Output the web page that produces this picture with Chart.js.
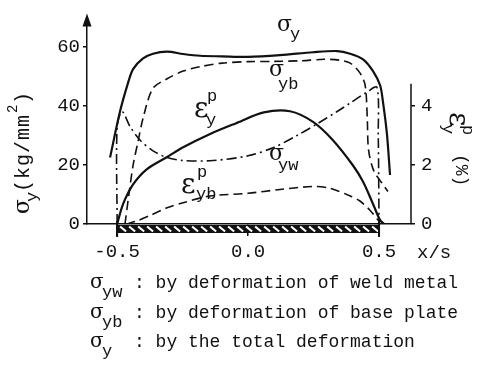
<!DOCTYPE html>
<html>
<head>
<meta charset="utf-8">
<script src="https://cdn.jsdelivr.net/npm/chart.js@4.4.1/dist/chart.umd.min.js"></script>
<style>
  html, body { margin: 0; padding: 0; background: #fff; }
  #wrap { width: 487px; height: 365px; }
</style>
</head>
<body>
<div id="wrap"><canvas id="chart" width="487" height="365"></canvas></div>
<script>
// tick values
const xTicks = [-0.5, 0.0, 0.5];
const sigmaTicks = [0, 20, 40, 60];
const strainTicks = [0, 2, 4];

// sigma_y : total deformation (kg/mm2)
const sigmaYPos = [-0.527, -0.489, -0.458, -0.439, -0.401, -0.363, -0.309, -0.248, -0.183, -0.1, 0.0, 0.122, 0.248, 0.34, 0.39, 0.439, 0.477, 0.504, 0.515, 0.53, 0.542];
const sigmaY = [22.5, 38.1, 47.9, 52.5, 56.1, 57.7, 58.4, 57.6, 57.0, 56.8, 56.6, 57.2, 58.2, 58.6, 57.7, 55.8, 51.8, 47.0, 41.4, 30.6, 16.6];

// sigma_yb : base plate deformation
const sigmaYbPos = [-0.47, -0.455, -0.439, -0.42, -0.40, -0.363, -0.309, -0.248, -0.183, -0.1, 0.0, 0.1, 0.2, 0.29, 0.35, 0.39, 0.427, 0.447, 0.455, 0.46, 0.48, 0.51, 0.534];
const sigmaYb = [0, 10, 19.9, 28, 36.2, 46, 49.2, 51.8, 53.3, 54.5, 55.0, 55.1, 55.3, 55.8, 55.5, 54.5, 51.2, 47, 36, 25, 18, 14, 11];

// sigma_yw : weld metal deformation
const sigmaYwPos = [-0.5, -0.5, -0.481, -0.45, -0.412, -0.363, -0.309, -0.248, -0.134, 0.0, 0.095, 0.187, 0.263, 0.34, 0.39, 0.454, 0.492, 0.497, 0.5];
const sigmaYw = [0, 33, 38.1, 32.9, 28.4, 24.8, 22.5, 21.5, 21.5, 23.1, 25.8, 30, 33.9, 38.1, 41, 44.7, 46.3, 30, 0];

// plastic strain (%)
const strainYPos = [-0.5, -0.477, -0.439, -0.386, -0.309, -0.248, -0.145, -0.05, 0.06, 0.16, 0.248, 0.324, 0.4, 0.439, 0.477, 0.504, 0.52];
const strainY = [0, 0.68, 1.34, 1.86, 2.27, 2.6, 3.05, 3.4, 3.78, 3.82, 3.46, 2.84, 1.99, 1.43, 0.68, 0.13, 0];

const strainYbPos = [-0.465, -0.42, -0.374, -0.309, -0.248, -0.145, 0.0, 0.122, 0.248, 0.313, 0.39, 0.427, 0.466, 0.504];
const strainYb = [0, 0.12, 0.29, 0.55, 0.72, 0.95, 1.04, 1.17, 1.27, 1.21, 0.95, 0.78, 0.46, 0.05];

const legendRows = [
  { sub: 'yw', text: ': by deformation of weld metal' },
  { sub: 'yb', text: ': by deformation of base plate' },
  { sub: 'y', text: ': by the total deformation' }
];

const INK = '#111';
const MONO = '"Liberation Mono", "DejaVu Sans Mono", monospace';
const SERIF = '"DejaVu Serif", "Liberation Serif", serif';

function pts(xs, ys) {
  return xs.map(function (x, i) { return { x: x, y: ys[i] }; });
}

function curve(data, axis, width, dash) {
  return {
    data: data,
    yAxisID: axis,
    showLine: true,
    borderColor: INK,
    borderWidth: width,
    borderDash: dash,
    pointRadius: 0,
    tension: 0.3,
    fill: false
  };
}

// main glyph with optional subscript / superscript
function symbol(ctx, s) {
  ctx.font = s.size + 'px ' + SERIF;
  ctx.fillText(s.main, s.x, s.y);
  ctx.font = '17px ' + MONO;
  if (s.sub) ctx.fillText(s.sub, s.sx, s.sy);
  if (s.sup) ctx.fillText(s.sup, s.px, s.py);
}

const curveLabels = [
  { main: 'σ', size: 22, x: 277, y: 31, sub: 'y', sx: 290, sy: 39 },
  { main: 'σ', size: 22, x: 269, y: 76, sub: 'yb', sx: 278, sy: 89 },
  { main: 'ε', size: 28, x: 194, y: 117, sub: 'y', sx: 206, sy: 125, sup: 'p', px: 207, py: 101 },
  { main: 'σ', size: 22, x: 269, y: 160, sub: 'yw', sx: 278, sy: 170 },
  { main: 'ε', size: 28, x: 181, y: 193, sub: 'yb', sx: 196, sy: 199, sup: 'p', px: 197, py: 177 }
];

const decor = {
  id: 'decor',
  afterDraw: function (chart) {
    const ctx = chart.ctx;
    const xs = chart.scales.x;
    const y2 = chart.scales.y2;
    const area = chart.chartArea;
    ctx.save();
    ctx.fillStyle = INK;
    ctx.strokeStyle = INK;

    // arrow on the stress axis
    ctx.beginPath();
    ctx.moveTo(area.left, area.top - 4);
    ctx.lineTo(area.left - 4.5, area.top + 9);
    ctx.lineTo(area.left + 4.5, area.top + 9);
    ctx.closePath();
    ctx.fill();

    // strain axis line
    ctx.lineWidth = 1.5;
    ctx.beginPath();
    ctx.moveTo(area.right, y2.getPixelForValue(4.75));
    ctx.lineTo(area.right, area.bottom);
    ctx.stroke();

    // weld bead
    const x0 = xs.getPixelForValue(-0.5);
    const x1 = xs.getPixelForValue(0.5);
    const b = area.bottom;
    ctx.fillRect(x0, b + 1, x1 - x0, 8);
    ctx.strokeStyle = '#fff';
    ctx.lineWidth = 2.2;
    for (let x = x0 + 3; x < x1 - 6; x += 9) {
      ctx.beginPath();
      ctx.moveTo(x, b + 2.5);
      ctx.lineTo(x + 6, b + 7.5);
      ctx.stroke();
    }
    ctx.strokeStyle = INK;
    ctx.lineWidth = 2;
    [x0, x1].forEach(function (x) {
      ctx.beginPath();
      ctx.moveTo(x, b - 3);
      ctx.lineTo(x, b + 13);
      ctx.stroke();
    });

    // curve labels
    ctx.textBaseline = 'alphabetic';
    ctx.textAlign = 'left';
    curveLabels.forEach(function (s) { symbol(ctx, s); });

    // x/s
    ctx.font = '19px ' + MONO;
    ctx.fillText('x/s', 417, 258);

    // stress axis title
    ctx.save();
    ctx.translate(29, 214);
    ctx.rotate(-Math.PI / 2);
    ctx.font = '22px ' + SERIF;
    ctx.fillText('σ', 0, 0);
    ctx.font = '17px ' + MONO;
    ctx.fillText('y', 12, 8);
    ctx.font = '20px ' + MONO;
    ctx.letterSpacing = '1px';
    ctx.fillText('(kg/mm', 22, 0);
    ctx.letterSpacing = '0px';
    ctx.font = '14px ' + MONO;
    ctx.fillText('2', 101, -12);
    ctx.font = '20px ' + MONO;
    ctx.fillText(')', 110, 0);
    ctx.restore();

    // strain axis title
    ctx.save();
    ctx.translate(450, 112);
    ctx.rotate(Math.PI / 2);
    ctx.font = '28px ' + SERIF;
    ctx.fillText('ε', 0, 0);
    ctx.font = '17px ' + MONO;
    ctx.fillText('p', 13, -13);
    ctx.fillText('y', 12, 7);
    ctx.font = '18px ' + MONO;
    ctx.fillText('(%)', 42, -6);
    ctx.restore();

    // legend rows
    legendRows.forEach(function (r, i) {
      const base = 288 + i * 29.5;
      ctx.font = '20px ' + SERIF;
      ctx.fillText('σ', 90, base);
      ctx.font = '17px ' + MONO;
      ctx.fillText(r.sub, 102, base + 9);
      ctx.font = '18px ' + MONO;
      ctx.fillText(r.text, 134, base);
    });

    ctx.restore();
  }
};

const tickFont = { family: MONO, size: 19 };

new Chart(document.getElementById('chart').getContext('2d'), {
  type: 'scatter',
  data: {
    datasets: [
      curve(pts(sigmaYPos, sigmaY), 'y', 2.2, []),
      curve(pts(sigmaYbPos, sigmaYb), 'y', 1.6, [9, 5]),
      curve(pts(sigmaYwPos, sigmaYw), 'y', 1.6, [10, 4, 2, 4]),
      curve(pts(strainYPos, strainY), 'y2', 2.2, []),
      curve(pts(strainYbPos, strainYb), 'y2', 1.6, [9, 5])
    ]
  },
  options: {
    responsive: false,
    animation: false,
    devicePixelRatio: 1,
    layout: { padding: { top: 9, left: 0, right: 0, bottom: 0 } },
    plugins: { legend: { display: false }, tooltip: { enabled: false } },
    scales: {
      x: {
        type: 'linear',
        min: -0.615,
        max: 0.622,
        afterBuildTicks: function (s) { s.ticks = xTicks.map(function (v) { return { value: v }; }); },
        afterFit: function (s) { s.height = 141; },
        grid: { display: true, drawOnChartArea: false, tickLength: 12, color: INK, lineWidth: 1.5 },
        border: { display: true, color: INK, width: 1.5 },
        ticks: {
          color: INK, font: tickFont, padding: 5, maxRotation: 0, autoSkip: false,
          callback: function (v) { return v.toFixed(1); }
        }
      },
      y: {
        position: 'left',
        min: 0,
        max: 70,
        afterBuildTicks: function (s) { s.ticks = sigmaTicks.map(function (v) { return { value: v }; }); },
        afterFit: function (s) { s.width = 87; },
        grid: { display: true, drawOnChartArea: false, tickLength: 4, color: INK, lineWidth: 1.5 },
        border: { display: true, color: INK, width: 1.5 },
        ticks: { color: INK, font: tickFont, padding: 3 }
      },
      y2: {
        position: 'right',
        min: 0,
        max: 7,
        afterBuildTicks: function (s) { s.ticks = strainTicks.map(function (v) { return { value: v }; }); },
        afterFit: function (s) { s.width = 76; },
        grid: { display: true, drawOnChartArea: false, tickLength: 4, color: INK, lineWidth: 1.5 },
        border: { display: false },
        ticks: { color: INK, font: tickFont, padding: 6 }
      }
    }
  },
  plugins: [decor]
});
</script>
</body>
</html>
